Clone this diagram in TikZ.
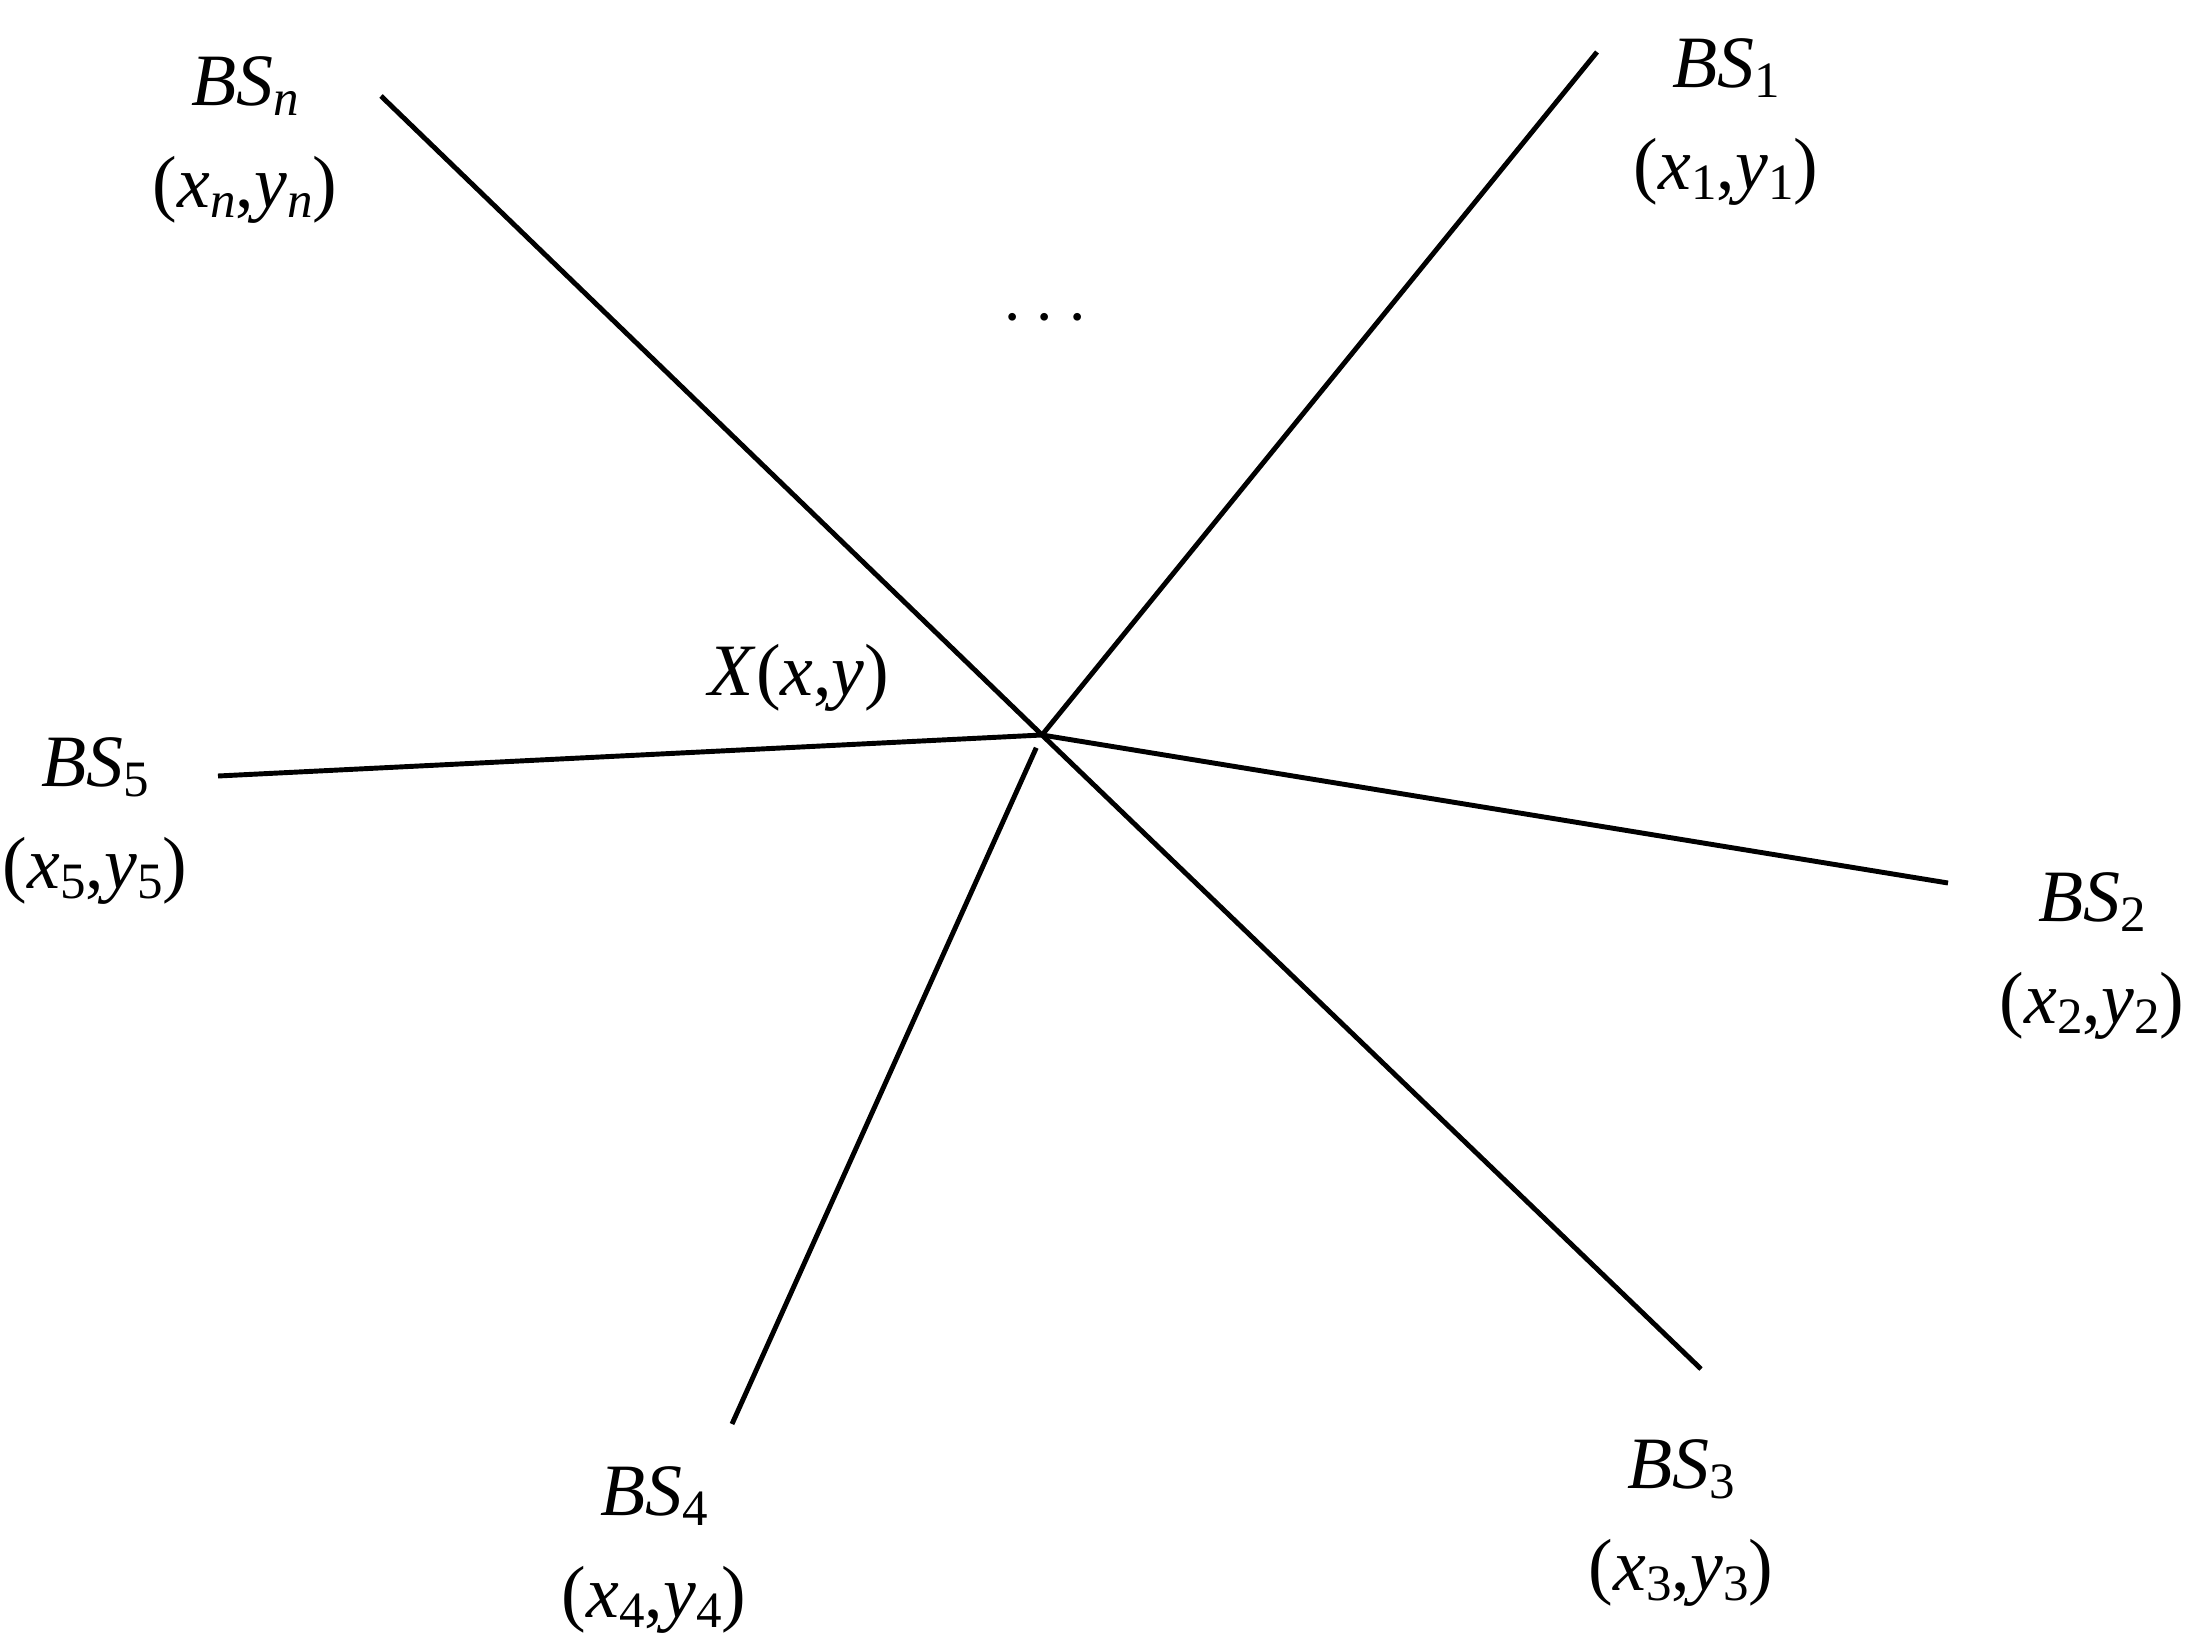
\documentclass[tikz,border=0pt]{standalone}
\usepackage{fontspec}
\setmainfont{Liberation Serif}
\usepackage{tikz}
\usetikzlibrary{arrows, positioning}

\newcommand{\low}[1]{\raisebox{-0.3ex}{\fontsize{14.5}{14.5}\selectfont #1}}
\newcommand{\site}[1]{\textit{BS}\low{#1}\\(\textit{x}\low{#1},\textit{y}\low{#1})}

\begin{document}
\begin{tikzpicture}[x=0.01cm,y=-0.01cm]
    \tikzstyle{label}=[align=center,inner sep=0pt,font=\fontsize{21}{29}\selectfont]
    \tikzstyle{ray}=[line width=1.4pt]

    \useasboundingbox (0,0) rectangle (2191,1643);

    % meeting point and far ends of the rays
    \coordinate (X) at (1042,735);
    \coordinate (en) at (381,96);
    \coordinate (e1) at (1597,52);
    \coordinate (e2) at (1948,883);
    \coordinate (e3) at (1701,1369);
    \coordinate (e4) at (732,1424);
    \coordinate (e5) at (218,776);

    \node[label] (BSn) at (245,140) {\site{\textit{n}}};
    \node[label] (BS1) at (1726,122) {\site{1}};
    \node[label] (BS2) at (2092,956) {\site{2}};
    \node[label] (BS3) at (1681,1523) {\site{3}};
    \node[label] (BS4) at (654,1550) {\site{4}};
    \node[label] (BS5) at (95,821) {\site{5}};
    \node[label] (xlab) at (799,678) {\textit{X}(\textit{x},\textit{y})};
    \node[label] (dots) at (1045,319) {$\cdots$};

    \path[ray, draw]
    (X) edge (en)
    (X) edge (e1)
    (X) edge (e2)
    (X) edge (e3)
    (X) edge[shorten <=0.14cm] (e4)
    (X) edge (e5)
    ;
\end{tikzpicture}
\end{document}
